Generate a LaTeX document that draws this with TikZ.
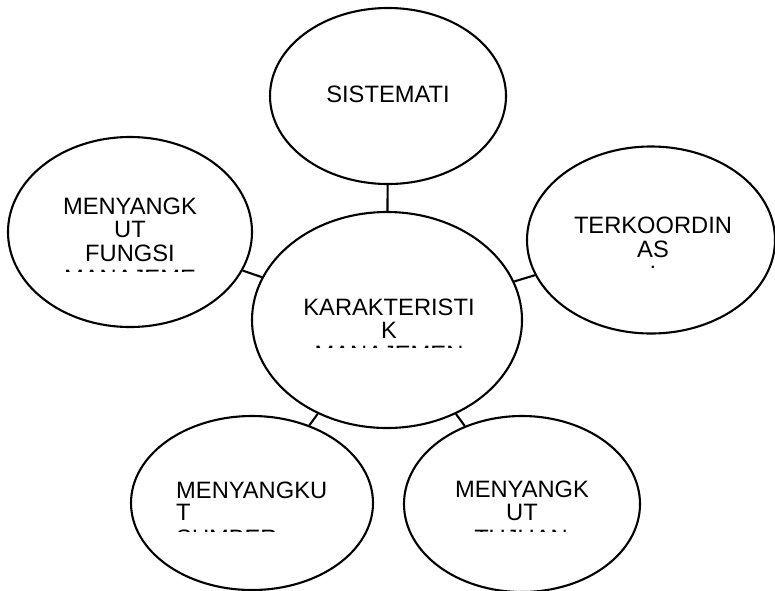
\documentclass[tikz,border=0pt]{standalone}
\usepackage{fontspec}
\setmainfont{Liberation Sans}
\usetikzlibrary{shapes.geometric}
\tikzset{
  bub/.style={draw=black, line width=2.1pt, ellipse, inner sep=0pt, fill=none},
  link/.style={draw=black, line width=2.1pt},
  txt/.style={inner sep=0pt, anchor=base, font=\fontsize{23.7}{23}\selectfont, text=black},
  txtl/.style={txt, anchor=base west}
}
\begin{document}
\begin{tikzpicture}[x=1pt,y=-1pt]
\useasboundingbox (0,0) rectangle (775,590);
\fill[white] (0,0) rectangle (775,590);
% ellipses
\node[bub, minimum width=236pt, minimum height=176pt] (sys) at (388,96) {};
\node[bub, minimum width=244pt, minimum height=190pt] (fun) at (130,232) {};
\node[bub, minimum width=248pt, minimum height=187pt] (ter) at (651,240) {};
\node[bub, minimum width=270pt, minimum height=216pt] (kar) at (387,320) {};
\node[bub, minimum width=242pt, minimum height=174pt] (sum) at (252,503) {};
\node[bub, minimum width=236pt, minimum height=176pt] (tuj) at (522,504) {};
% connectors
\draw[link] (kar) -- (sys);
\draw[link] (kar) -- (fun);
\draw[link] (kar) -- (ter);
\draw[link] (kar) -- (sum);
\draw[link] (kar) -- (tuj);
% texts
\node[txt] (sys1) at (388,102) {SISTEMATI};

\node[txt] (fun1) at (130,214) {MENYANGK};
\node[txt] (fun2) at (130,237) {UT};
\node[txt] (fun3) at (130,261) {FUNGSI};
\begin{scope}
\clip (40,262) rectangle (220,271.5);
\node[txt] (fun4) at (130,286) {MANAJEME};
\end{scope}

\node[txt] (ter1) at (653,233) {TERKOORDIN};
\node[txt] (ter2) at (653,257) {AS};
\begin{scope}
\clip (600,259) rectangle (700,267);
\node[txt] (ter3) at (653,282) {I};
\end{scope}

\node[txt] (kar1) at (389,315) {KARAKTERISTI};
\node[txt] (kar2) at (389,338) {K};
\begin{scope}
\clip (290,339) rectangle (490,347.5);
\node[txt] (kar3) at (389,362) {MANAJEMEN};
\end{scope}

\node[txtl] (sum1) at (176,498) {MENYANGKU};
\node[txtl] (sum2) at (176,520) {T};
\begin{scope}
\clip (170,522) rectangle (300,531);
\node[txtl] (sum3) at (176,546) {SUMBER};
\end{scope}

\node[txt] (tuj1) at (522,497) {MENYANGK};
\node[txt] (tuj2) at (522,520) {UT};
\begin{scope}
\clip (460,522) rectangle (590,531);
\node[txt] (tuj3) at (521,546) {TUJUAN};
\end{scope}
\end{tikzpicture}
\end{document}
